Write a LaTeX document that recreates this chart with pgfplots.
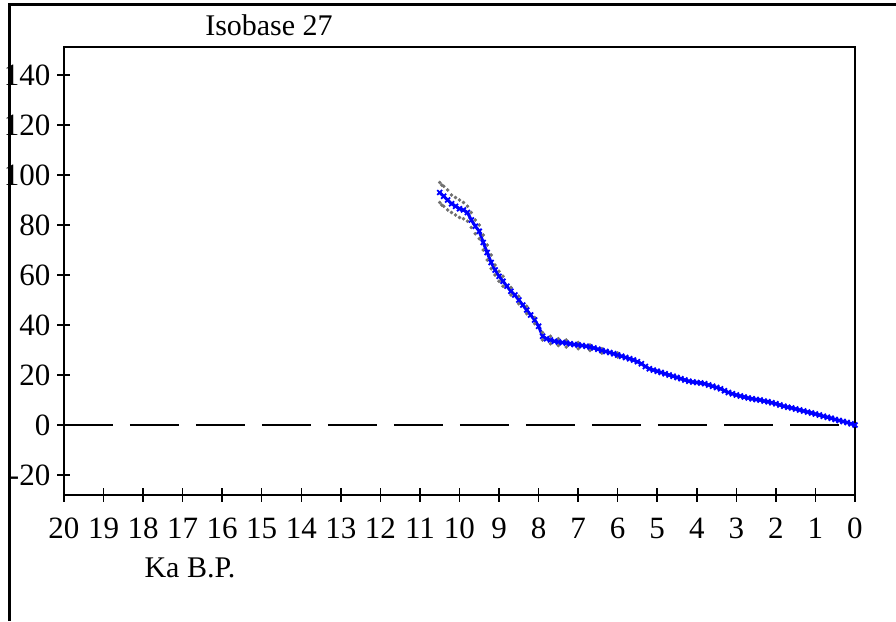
\documentclass[border=0pt]{standalone}
\usepackage{fontspec}
\setmainfont{Liberation Serif}
\usepackage{pgfplots}
\pgfplotsset{compat=1.18}
\definecolor{curveBlue}{HTML}{0000FF}
\definecolor{envGrey}{HTML}{707070}

% main curve: emergence (m) against age (ka BP)
\pgfplotstableread{
t v
10.5 93
10.4 91.5
10.3 90
10.2 88.5
10.1 87.5
10.0 86.5
9.9 86
9.8 85
9.7 82
9.6 79.5
9.5 77.5
9.4 73
9.3 69
9.2 65
9.1 62
9.0 59.5
8.9 57.5
8.8 55.5
8.7 53.5
8.6 52
8.5 50
8.4 48
8.3 46
8.2 44
8.1 42
8.0 39.5
7.9 35.5
7.8 34.5
7.7 34
7.6 33.5
7.5 33.2
7.4 33
7.3 32.8
7.2 32.5
7.1 32.2
7.0 32
6.9 31.8
6.8 31.5
6.7 31.2
6.6 30.8
6.5 30.3
6.4 29.8
6.3 29.4
6.2 29
6.1 28.5
6.0 28
5.9 27.5
5.8 27
5.7 26.5
5.6 26
5.5 25.3
5.4 24.5
5.3 23.4
5.2 22.5
5.1 22
5.0 21.5
4.9 21
4.8 20.5
4.7 20
4.6 19.5
4.5 19
4.4 18.5
4.3 18
4.2 17.5
4.1 17.2
4.0 17
3.9 16.8
3.8 16.5
3.7 16
3.6 15.5
3.5 15
3.4 14.5
3.3 13.7
3.2 13
3.1 12.5
3.0 12
2.9 11.6
2.8 11.2
2.7 10.8
2.6 10.5
2.5 10.2
2.4 10
2.3 9.6
2.2 9.3
2.1 8.9
2.0 8.5
1.9 8
1.8 7.5
1.7 7.1
1.6 6.8
1.5 6.4
1.4 6
1.3 5.6
1.2 5.2
1.1 4.8
1.0 4.4
0.9 4
0.8 3.5
0.7 3.1
0.6 2.7
0.5 2.2
0.4 1.8
0.3 1.4
0.2 1
0.1 0.5
0.0 0
}\curvetab

% uncertainty envelope (grey dots)
\pgfplotstableread{
t v
10.5 97
10.45 96
10.4 95.5
10.3 94
10.2 92
10.1 91
10.0 90
9.9 89
9.8 87.5
9.7 85
9.6 82
9.5 80
9.4 76
9.3 72
9.2 68
9.1 64
9.0 61.5
8.9 59.5
8.7 55
8.5 51.5
8.3 47.5
8.1 43
7.9 37
7.7 35.5
7.5 34.5
7.3 34
7.0 33
6.7 32
6.4 30.5
6.0 28.8
}\uppertab
\pgfplotstableread{
t v
10.5 89
10.45 88
10.4 87.5
10.3 86
10.2 85
10.1 84
10.0 83
9.9 82.5
9.8 81.5
9.7 79
9.6 76.5
9.5 74.5
9.4 70
9.3 66
9.2 62.5
9.1 60
9.0 57.5
8.9 55.5
8.7 52
8.5 48.5
8.3 44.5
8.1 40.5
7.9 34
7.7 32.5
7.5 31.8
7.3 31.2
7.0 30.5
6.7 29.8
6.4 28.8
6.0 27.2
}\lowertab

\begin{document}
\begin{tikzpicture}[x=1pt,y=1pt]
\useasboundingbox (0,0) rectangle (896,621);
\draw[line width=3pt] (9,0) -- (9,616) -- (896,616);
\begin{axis}[
  at={(64pt,126pt)}, anchor=south west,
  scale only axis, width=791pt, height=448pt,
  xmin=0, xmax=20, x dir=reverse,
  ymin=-28, ymax=151.2,
  xtick={0,...,20}, ytick={-20,0,20,...,140},
  xtick pos=bottom, ytick pos=left,
  tick align=center, major tick length=13pt,
  axis line style={line width=1.6pt},
  every tick/.style={black, line width=1.5pt},
  /pgf/number format/assume math mode=true,
  tick label style={font=\fontsize{31}{31}\selectfont},
  yticklabel style={inner sep=0pt, anchor=east, xshift=-7pt},
  xticklabel style={inner sep=0pt, anchor=north, yshift=-16pt},
  clip=false,
]
  \addplot[black, line width=2pt, dash pattern=on 49pt off 17pt] coordinates {(20,0) (0,0)};
  \addplot[only marks, envGrey, mark=*, mark size=1.6pt] table[x=t,y=v] {\uppertab};
  \addplot[only marks, envGrey, mark=*, mark size=1.6pt] table[x=t,y=v] {\lowertab};
  \addplot[curveBlue, line width=3pt, mark=x, mark size=3.5pt, mark options={line width=1.8pt}] table[x=t,y=v] {\curvetab};
\end{axis}
\node[anchor=base, font=\fontsize{30}{30}\selectfont] at (269,585) {Isobase 27};
\node[anchor=base, font=\fontsize{30}{30}\selectfont] at (190,44) {Ka B.P.};
\end{tikzpicture}
\end{document}
